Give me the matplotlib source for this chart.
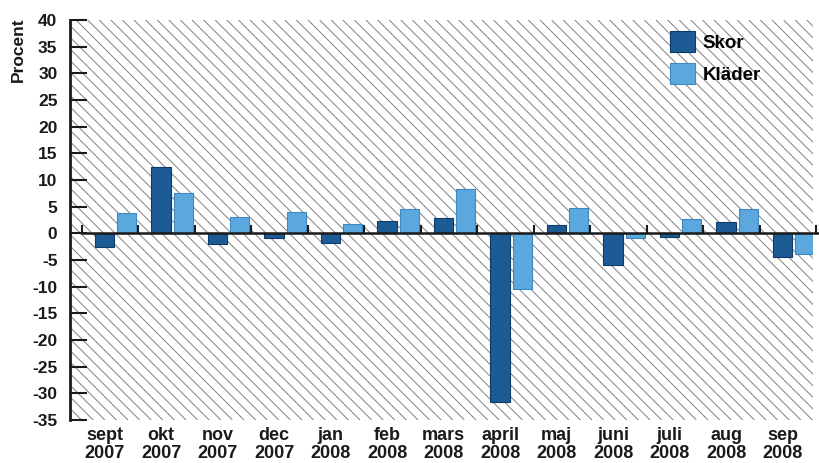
import matplotlib.pyplot as plt
import numpy as np
from matplotlib.collections import LineCollection

plt.rcParams['font.family'] = ['Liberation Sans', 'DejaVu Sans']
plt.rcParams['axes.unicode_minus'] = False

months = ["sept", "okt", "nov", "dec", "jan", "feb", "mars",
          "april", "maj", "juni", "juli", "aug", "sep"]
years = ["2007", "2007", "2007", "2007", "2008", "2008", "2008",
         "2008", "2008", "2008", "2008", "2008", "2008"]
skor = [-2.5, 12.5, -2.0, -0.8, -1.9, 2.4, 2.8, -31.7, 1.6, -5.9, -0.6, 2.1, -4.5]
klader = [3.8, 7.6, 3.0, 4.0, 1.8, 4.6, 8.4, -10.4, 4.8, -0.8, 2.7, 4.6, -3.9]

W, H = 820, 463
fig = plt.figure(figsize=(W / 100, H / 100), dpi=100)
ax = fig.add_axes([70 / W, 43 / H, 743 / W, 400 / H])

x = np.arange(len(months))
bw = 0.34
b1 = ax.bar(x - 0.1, skor, bw, color="#1d5b95", edgecolor="#0e3a6a",
            linewidth=0.8, zorder=2, label="Skor")
b2 = ax.bar(x + 0.295, klader, bw, color="#5aa8dd", edgecolor="#3f88c2",
            linewidth=0.8, zorder=2, label="Kläder")

ax.set_xlim(-0.712, 12.44)
ax.set_ylim(-35, 40)

# diagonal hatching of the plot area (45 degrees in pixels)
aw, ah = 743.0, 400.0
segs = []
for c in np.arange(-ah, aw + 12, 11.6):
    segs.append([(c / aw, 1.0), ((c + ah) / aw, 0.0)])
ax.add_collection(LineCollection(segs, colors="#808080", linewidths=0.7,
                                 transform=ax.transAxes, zorder=0))

# zero line with small category ticks
ax.plot([-0.5, 12.55], [0, 0], color="#1a1a1a", lw=1.8, zorder=3, clip_on=False)
for b in np.arange(-0.5, 12.6, 1.0):
    ax.plot([b, b], [0, 1.4], color="#1a1a1a", lw=1.5, zorder=3, clip_on=False)

for s in ["top", "right", "bottom"]:
    ax.spines[s].set_visible(False)
ax.spines["left"].set_linewidth(2)
ax.spines["left"].set_color("#1a1a1a")

ax.set_yticks(np.arange(-35, 41, 5))
ax.tick_params(axis="y", direction="in", length=12.5, width=1.5,
               color="#1a1a1a", labelsize=12.5, pad=9, labelcolor="#1a1a1a")
for t in ax.get_yticklabels():
    t.set_fontweight("bold")
ax.set_xticks(x - 0.1)
ax.set_xticklabels([f"{m}\n{y}" for m, y in zip(months, years)],
                   fontsize=13, linespacing=1.05, color="#1a1a1a",
                   fontweight="bold")
ax.tick_params(axis="x", length=0, pad=5)

fig.text(18 / W, 1 - 17 / H, "Procent", rotation=90, ha="center", va="top",
         fontsize=12.5, fontweight="bold", color="#1a1a1a")

ax.legend(handles=[b1, b2], loc="upper left",
          bbox_to_anchor=(670 / W, 1 - 31 / H), bbox_transform=fig.transFigure,
          frameon=False, prop={"size": 13.5, "weight": "bold"},
          handlelength=1.33, handleheight=1.33,
          labelspacing=0.6, handletextpad=0.4, borderpad=0, borderaxespad=0)

fig.savefig("out.png", dpi=100)
